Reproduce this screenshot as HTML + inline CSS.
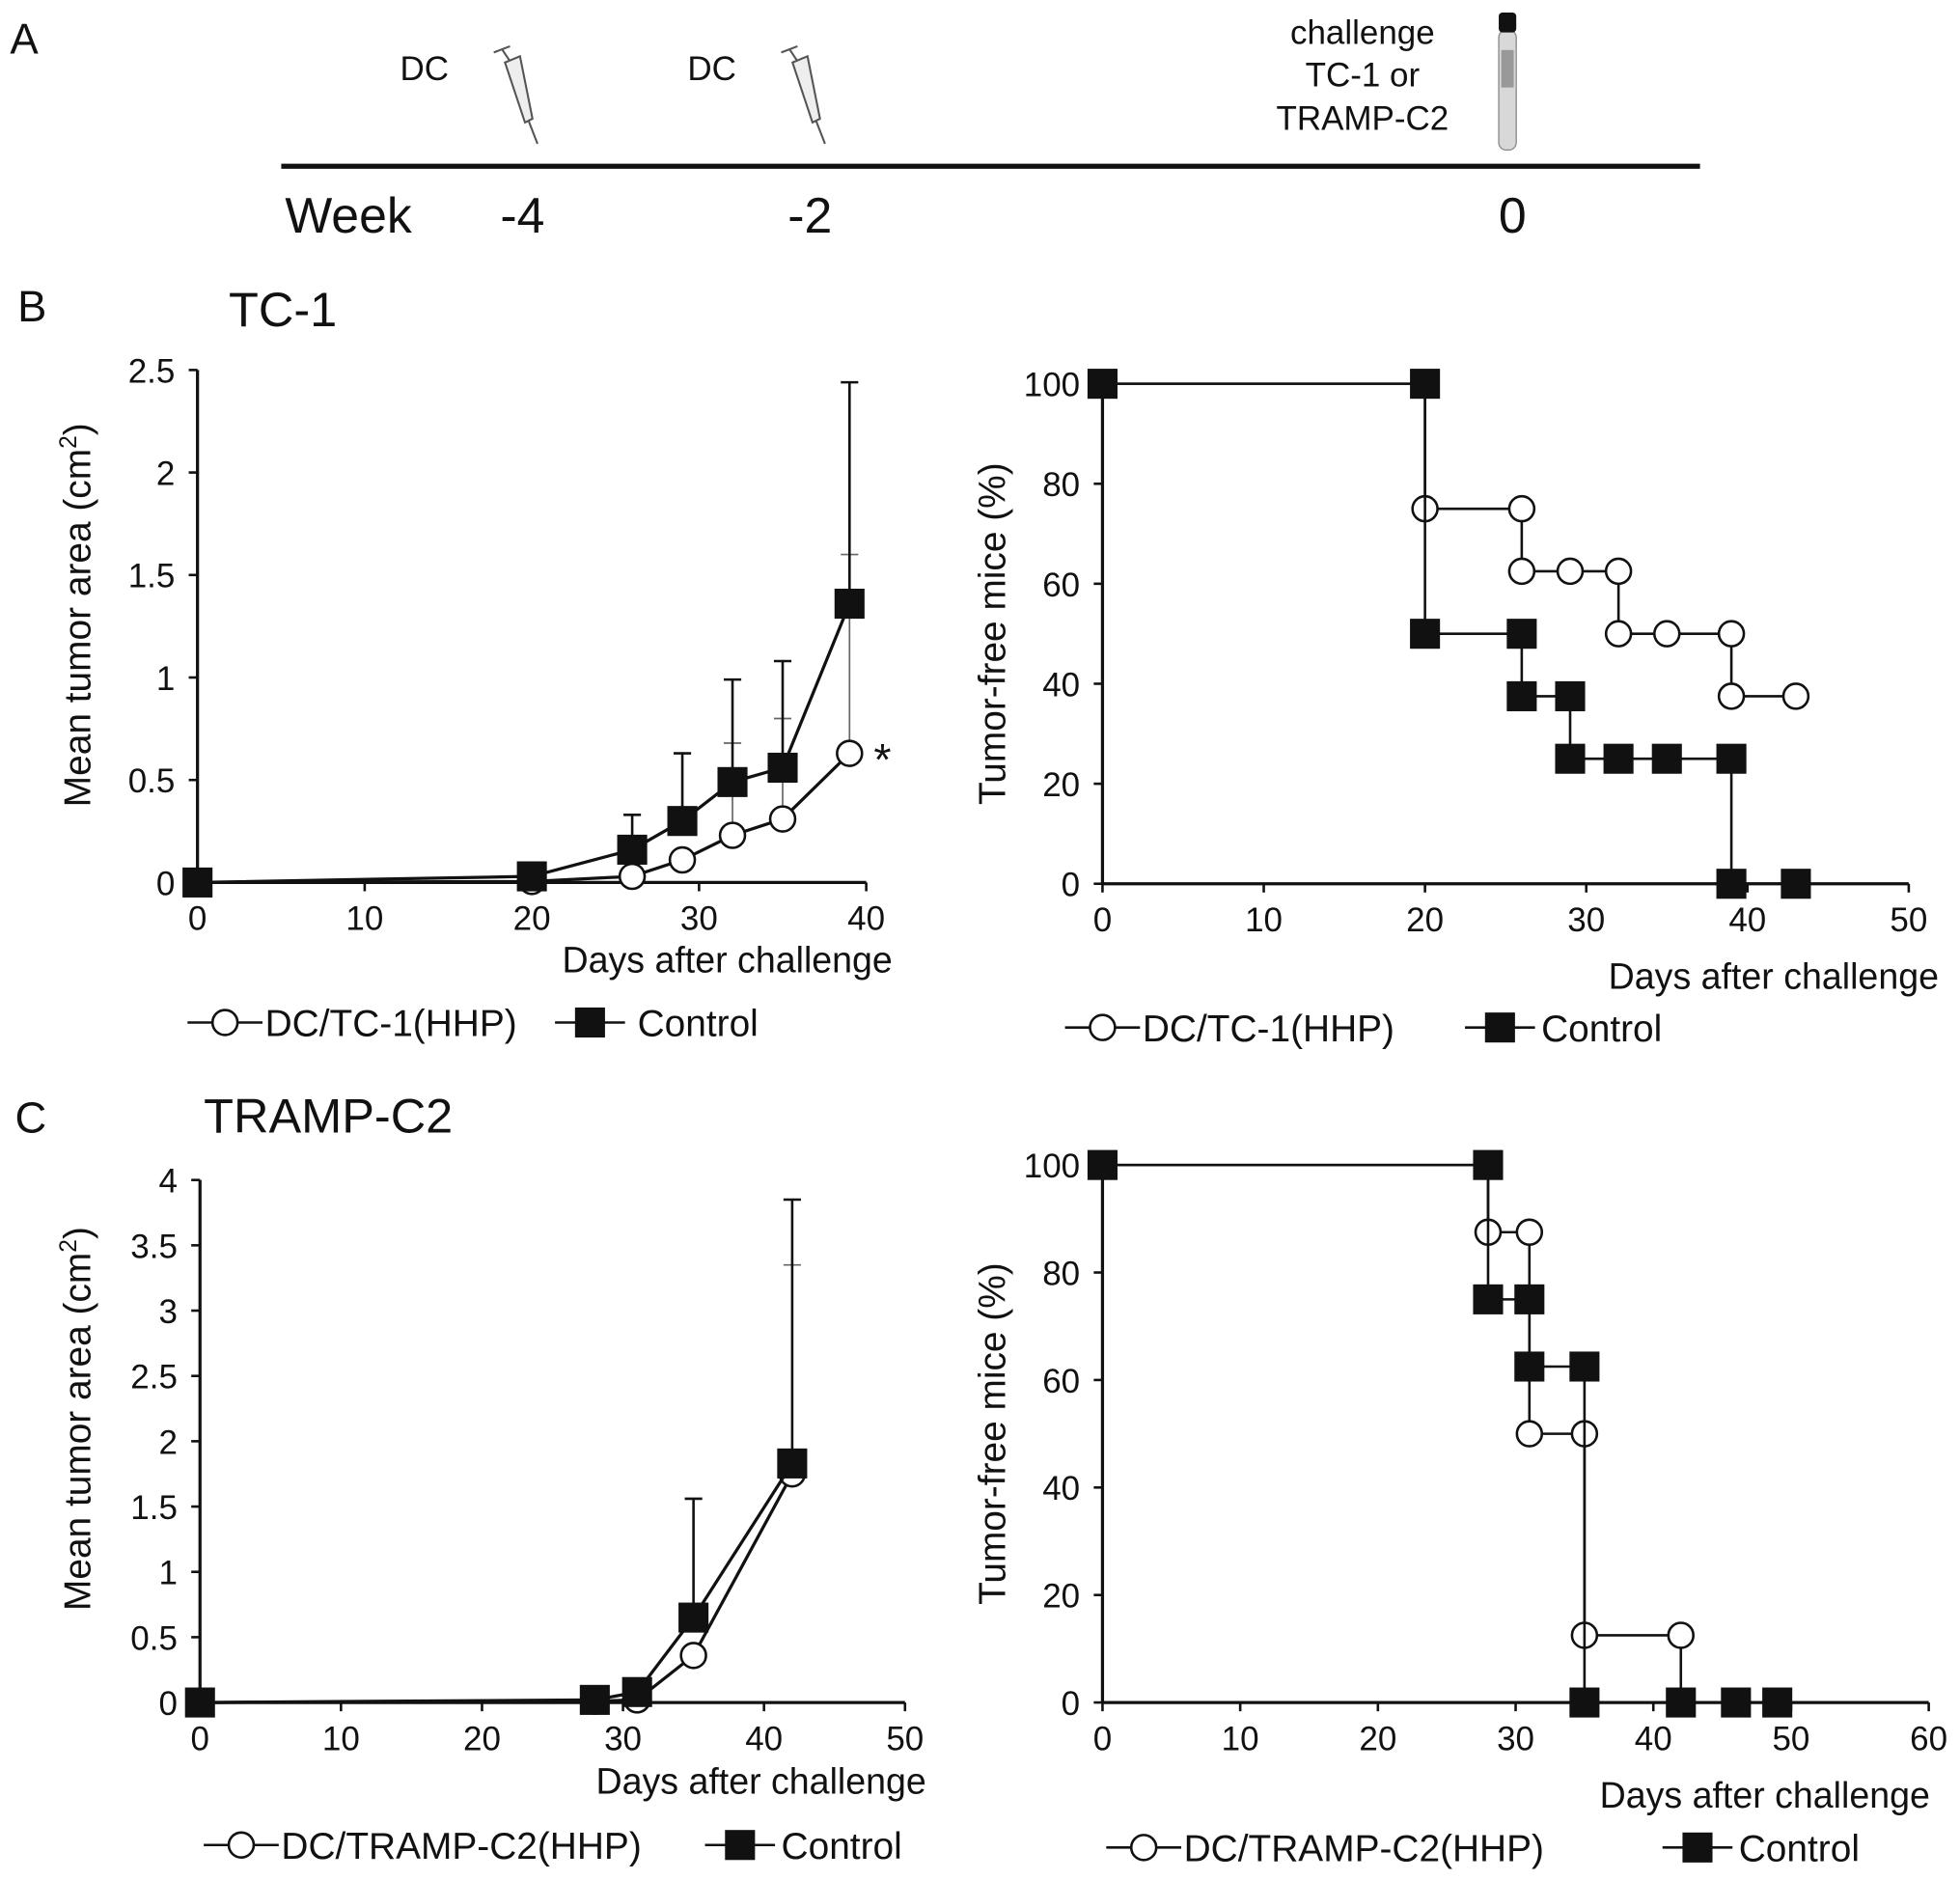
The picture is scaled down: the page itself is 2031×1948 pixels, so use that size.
<!DOCTYPE html>
<html><head><meta charset="utf-8"><style>
html,body{margin:0;padding:0;background:#fff}
svg{display:block}
text{font-family:"Liberation Sans",Arial,sans-serif;fill:#111}
</style></head><body>
<svg id="fig" xmlns="http://www.w3.org/2000/svg" width="2031" height="1948" viewBox="0 0 1568 1504" preserveAspectRatio="none">
<g>
<text x="8" y="43" font-size="34">A</text>
<text x="320" y="64" font-size="27">DC</text>
<text x="550" y="64" font-size="27">DC</text>
<g stroke="#555" fill="none" stroke-width="1.6">
<line x1="395" y1="42" x2="408" y2="37"/><line x1="402" y1="40" x2="410" y2="52"/>
<path d="M404 50 L416 45 L426 95 L420 98 Z" fill="#eee"/><line x1="423" y1="97" x2="430" y2="115"/></g>
<g stroke="#555" fill="none" stroke-width="1.6">
<line x1="625" y1="42" x2="638" y2="37"/><line x1="632" y1="40" x2="640" y2="52"/>
<path d="M634 50 L646 45 L656 95 L650 98 Z" fill="#eee"/><line x1="653" y1="97" x2="660" y2="115"/></g>
<text x="1090" y="35" font-size="27" text-anchor="middle">challenge</text>
<text x="1090" y="69" font-size="27" text-anchor="middle">TC-1 or</text>
<text x="1090" y="104" font-size="27" text-anchor="middle">TRAMP-C2</text>
<g>
<rect x="1199" y="24" width="14" height="96" rx="6" fill="#d8d8d8" stroke="#888"/>
<rect x="1199" y="10" width="14" height="16" rx="3" fill="#111"/>
<rect x="1201" y="40" width="10" height="30" fill="#999"/></g>
<line x1="225" y1="133" x2="1360" y2="133" stroke="#111" stroke-width="4"/>
<text x="228" y="186" font-size="40">Week</text>
<text x="418" y="186" font-size="40" text-anchor="middle">-4</text>
<text x="648" y="186" font-size="40" text-anchor="middle">-2</text>
<text x="1210" y="186" font-size="40" text-anchor="middle">0</text>
</g>
<text x="14" y="257" font-size="35">B</text>
<text x="183" y="261" font-size="39">TC-1</text>
<text x="12" y="906" font-size="35">C</text>
<text x="163" y="906" font-size="39">TRAMP-C2</text>
</svg>
<script>
// ---- data ----
const bDays=[0,20,26,29,32,35,39];
const bDcMean=[0,0.005,0.03,0.11,0.23,0.31,0.63];
const bDcErr=[0,0,0,0,0.68,0.8,1.6];
const bCtlMean=[0,0.03,0.16,0.30,0.49,0.56,1.36];
const bCtlErr=[0,0,0.33,0.63,0.99,1.08,2.44];
const bYTicks=[0,0.5,1,1.5,2,2.5];
const bXTicks=[0,10,20,30,40];

const bKmTimes=[0,20,26,29,32,35,39,43];
const bKmDc=[100,75,62.5,62.5,50,50,37.5,37.5];
const bKmCtl=[100,50,37.5,25,25,25,0,0];
const kmYTicks=[0,20,40,60,80,100];
const bKmXTicks=[0,10,20,30,40,50];

const cDays=[0,28,31,35,42];
const cDcMean=[0,0.01,0.02,0.36,1.75];
const cDcErr=[0,0,0,0,3.35];
const cCtlMean=[0,0.02,0.08,0.65,1.83];
const cCtlErr=[0,0,0,1.56,3.85];
const cYTicks=[0,0.5,1,1.5,2,2.5,3,3.5,4];
const cXTicks=[0,10,20,30,40,50];

const cKmTimes=[0,28,31,35,42,46,49];
const cKmDc=[100,87.5,50,12.5,0,0,0];
const cKmCtl=[100,75,62.5,0,0,0,0];
const cKmXTicks=[0,10,20,30,40,50,60];

const NS='http://www.w3.org/2000/svg';
const svg=document.getElementById('fig');
function mk(tag,attrs,parent){const e=document.createElementNS(NS,tag);for(const k in attrs)e.setAttribute(k,attrs[k]);(parent||svg).appendChild(e);return e;}
function txt(s,x,y,size,anchor,parent){const t=mk('text',{x:x,y:y,'font-size':size,'text-anchor':anchor||'start'},parent);t.textContent=s;return t;}
function marker(kind,x,y,g){
  let e;
  if(kind==='circle'){e=mk('circle',{cx:x,cy:y,r:10,fill:'#fff',stroke:'#111','stroke-width':2},g);}
  else{e=mk('rect',{x:x-12,y:y-12,width:24,height:24,fill:'#111'},g);}
  return e;
}
function axes(name,x0,x1,y0,y1,xmin,xmax,ymin,ymax,xt,yt){
  const g=mk('g',{});
  
  
  const X=v=>x0+(v-xmin)/(xmax-xmin)*(x1-x0);
  const Y=v=>y0-(v-ymin)/(ymax-ymin)*(y0-y1);
  const ya=mk('line',{x1:x0,y1:y0,x2:x0,y2:y1,stroke:'#111','stroke-width':2.5},g);
  
  
  const xa=mk('line',{x1:x0,y1:y0,x2:x1,y2:y0,stroke:'#111','stroke-width':2.5},g);
  
  
  yt.forEach(v=>{mk('line',{x1:x0-7,y1:Y(v),x2:x0,y2:Y(v),stroke:'#111','stroke-width':2},g);
    const t=txt(String(v),x0-18,Y(v)+10,27,'end',g);
    
    });
  xt.forEach(v=>{mk('line',{x1:X(v),y1:y0,x2:X(v),y2:y0+7,stroke:'#111','stroke-width':2},g);
    const t=txt(String(v),X(v),y0+38,27,'middle',g);
    
    });
  return {g,X,Y};
}
function ylabel(s,x,y,g){const t=mk('text',{x:0,y:0,'font-size':30,'text-anchor':'middle',transform:`translate(${x},${y}) rotate(-90)`},g);t.innerHTML=s;
  
  }
function xlabel(s,x,y,g){const t=txt(s,x,y,29,'end',g);
  
  }
function legend(y,lx,cx,ctext,sx,sxText,g){
  const a=mk('g',{},g);
  
  
  mk('line',{x1:lx,y1:y,x2:cx+30,y2:y,stroke:'#111','stroke-width':2},a);
  marker('circle',cx,y,a);
  txt(ctext,cx+32,y+11,30,'start',a);
  const b=mk('g',{},g);
  
  
  mk('line',{x1:sx-28,y1:y,x2:sx+28,y2:y,stroke:'#111','stroke-width':2},b);
  marker('square',sx,y,b);
  txt('Control',sxText,y+11,30,'start',b);
}
function tumor(ax,days,mean,err,kind,name){
  const g=mk('g',{},ax.g);
  
  
  days.forEach((d,i)=>{if(err[i]>mean[i]){const x=ax.X(d);
    mk('line',{x1:x,y1:ax.Y(mean[i]),x2:x,y2:ax.Y(err[i]),stroke:kind==='square'?'#111':'#666','stroke-width':kind==='square'?2:1.3},g);
    mk('line',{x1:x-7,y1:ax.Y(err[i]),x2:x+7,y2:ax.Y(err[i]),stroke:kind==='square'?'#111':'#666','stroke-width':kind==='square'?2:1.3},g);}});
  mk('polyline',{points:days.map((d,i)=>ax.X(d)+','+ax.Y(mean[i])).join(' '),fill:'none',stroke:'#111','stroke-width':2.5},g);
  days.forEach((d,i)=>{const m=marker(kind,ax.X(d),ax.Y(mean[i]),g);
    
    });
}
function km(ax,times,surv,kind,name){
  const g=mk('g',{},ax.g);
  
  
  let pts=[];
  times.forEach((t,i)=>{if(i>0)pts.push([t,surv[i-1]]);pts.push([t,surv[i]]);});
  mk('polyline',{points:pts.map(p=>ax.X(p[0])+','+ax.Y(p[1])).join(' '),fill:'none',stroke:'#111','stroke-width':2},g);
  const seen={};
  pts.forEach(p=>{const k=p[0]+'_'+p[1];if(seen[k])return;seen[k]=1;
    const m=marker(kind,ax.X(p[0]),ax.Y(p[1]),g);
    
    });
}
// B left
const bl=axes('tc1-tumor-area-chart',158,693,706,296,0,40,0,2.5,bXTicks,bYTicks);
ylabel('Mean tumor area (cm<tspan dy="-11" font-size="19">2</tspan><tspan dy="11">)</tspan>',72,492,bl.g);
xlabel('Days after challenge',714,778,bl.g);
tumor(bl,bDays,bDcMean,bDcErr,'circle','dc-tc1-series');
tumor(bl,bDays,bCtlMean,bCtlErr,'square','control-series');
const ast=txt('*',699,620,36,'start',bl.g);


legend(818,150,180,'DC/TC-1(HHP)',472,510,bl.g);
// B right
const br=axes('tc1-tumor-free-chart',882,1527,707,307,0,50,0,100,bKmXTicks,kmYTicks);
ylabel('Tumor-free mice (%)',804,507,br.g);
xlabel('Days after challenge',1551,791,br.g);
km(br,bKmTimes,bKmDc,'circle','dc-tc1-km');
km(br,bKmTimes,bKmCtl,'square','control-km');
legend(822,852,882,'DC/TC-1(HHP)',1200,1233,br.g);
// C left
const cl=axes('tramp-tumor-area-chart',160,724,1362,944,0,50,0,4,cXTicks,cYTicks);
ylabel('Mean tumor area (cm<tspan dy="-11" font-size="19">2</tspan><tspan dy="11">)</tspan>',72,1135,cl.g);
xlabel('Days after challenge',741,1435,cl.g);
tumor(cl,cDays,cDcMean,cDcErr,'circle','dc-tramp-series');
tumor(cl,cDays,cCtlMean,cCtlErr,'square','control-series');
legend(1476,163,193,'DC/TRAMP-C2(HHP)',592,625,cl.g);
// C right
const cr=axes('tramp-tumor-free-chart',882,1543,1362,932,0,60,0,100,cKmXTicks,kmYTicks);
ylabel('Tumor-free mice (%)',804,1147,cr.g);
xlabel('Days after challenge',1544,1446,cr.g);
km(cr,cKmTimes,cKmDc,'circle','dc-tramp-km');
km(cr,cKmTimes,cKmCtl,'square','control-km');
legend(1478,885,915,'DC/TRAMP-C2(HHP)',1358,1391,cr.g);
</script>
</body></html>
